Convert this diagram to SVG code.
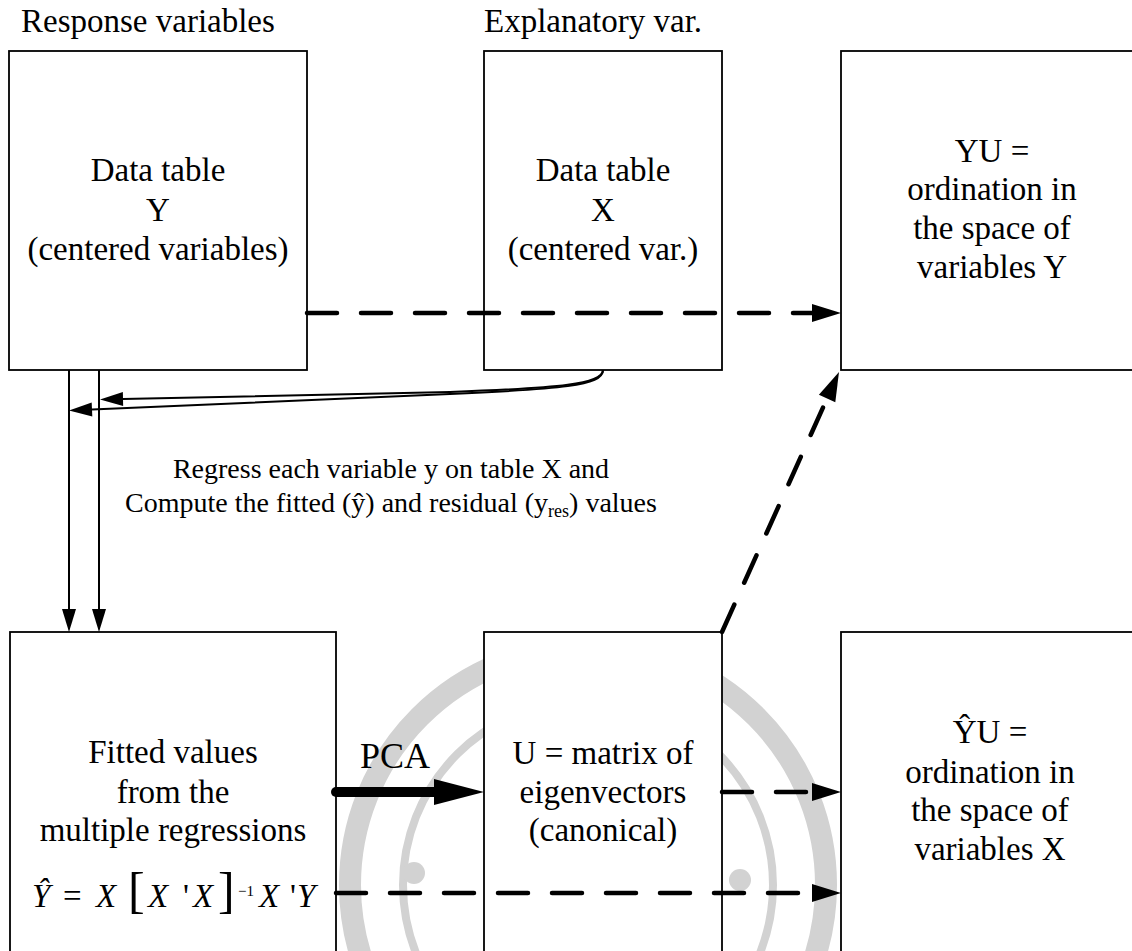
<svg xmlns="http://www.w3.org/2000/svg" width="1132" height="951" viewBox="0 0 1132 951">
<style>
.t{font-family:"Liberation Serif","Times New Roman",serif;font-size:33px;fill:#000}
.m{text-anchor:middle}
.i{font-style:italic}
.box{fill:#fff;stroke:#000;stroke-width:1.8}
.thin{fill:none;stroke:#000;stroke-width:2}
.dash{fill:none;stroke:#000;stroke-width:4.5;stroke-dasharray:30 24;stroke-linecap:round}
.wm{fill:none;stroke:#d2d2d2}
</style>
<defs>
<marker id="ah" markerUnits="userSpaceOnUse" orient="auto" overflow="visible" markerWidth="30" markerHeight="20" refX="0" refY="0"><path d="M0,-9 L29,0 L0,9 Z" fill="#000"/></marker>
<marker id="ahs" markerUnits="userSpaceOnUse" orient="auto" overflow="visible" markerWidth="24" markerHeight="16" refX="0" refY="0"><path d="M0,-7 L23,0 L0,7 Z" fill="#000"/></marker>
<marker id="ahb" markerUnits="userSpaceOnUse" orient="auto" overflow="visible" markerWidth="50" markerHeight="28" refX="0" refY="0"><path d="M0,-13 L50,0 L0,13 Z" fill="#000"/></marker>
</defs>
<rect width="1132" height="951" fill="#fff"/>
<g id="watermark">
<circle class="wm" cx="588" cy="885" r="238" stroke-width="22"/>
<circle class="wm" cx="588" cy="885" r="185" stroke-width="8"/>
<circle cx="414" cy="873" r="11" fill="#d2d2d2"/>
<circle cx="740" cy="880" r="11" fill="#d2d2d2"/>
</g>
<text class="t" x="21" y="32">Response variables</text>
<text class="t" x="484" y="32">Explanatory var.</text>
<g id="nodeY">
<rect class="box" x="9" y="51" width="298" height="319"/>
<text class="t m" x="158" y="181">Data table</text>
<text class="t m" x="158" y="221">Y</text>
<text class="t m" x="158" y="260">(centered variables)</text>
</g>
<g id="nodeX">
<rect class="box" x="484" y="51" width="238" height="319"/>
<text class="t m" x="603" y="181">Data table</text>
<text class="t m" x="603" y="221">X</text>
<text class="t m" x="603" y="260">(centered var.)</text>
</g>
<g id="nodeYU">
<rect class="box" x="841" y="51" width="310" height="319"/>
<text class="t m" x="992" y="162">YU =</text>
<text class="t m" x="992" y="200">ordination in</text>
<text class="t m" x="992" y="239">the space of</text>
<text class="t m" x="992" y="278">variables Y</text>
</g>
<g id="nodeFitted">
<rect class="box" x="10" y="632" width="326" height="340"/>
<text class="t m" x="173" y="763">Fitted values</text>
<text class="t m" x="173" y="803">from the</text>
<text class="t m" x="173" y="841">multiple regressions</text>
<text class="t i" x="32" y="907">Ŷ</text>
<text class="t" x="63" y="907">=</text>
<text class="t i" x="96" y="907">X</text>
<text class="t" x="128" y="907" style="font-size:50px">[</text>
<text class="t i" x="148" y="907">X</text>
<text class="t" x="183" y="907">'</text>
<text class="t i" x="193" y="907">X</text>
<text class="t" x="218" y="907" style="font-size:50px">]</text>
<text class="t" x="238" y="896" style="font-size:15px">−1</text>
<text class="t i" x="259" y="907">X</text>
<text class="t" x="290" y="907">'</text>
<text class="t i" x="297" y="907">Y</text>
</g>
<g id="nodeU">
<rect class="box" x="484" y="632" width="238" height="340"/>
<text class="t m" x="603" y="764">U = matrix of</text>
<text class="t m" x="603" y="803">eigenvectors</text>
<text class="t m" x="603" y="841">(canonical)</text>
</g>
<g id="nodeYhatU">
<rect class="box" x="841" y="632" width="310" height="340"/>
<text class="t m" x="990" y="743">ŶU =</text>
<text class="t m" x="990" y="783">ordination in</text>
<text class="t m" x="990" y="821">the space of</text>
<text class="t m" x="990" y="860">variables X</text>
</g>
<g id="connectors">
<path class="dash" d="M307,313 L812,313" marker-end="url(#ah)"/>
<path class="thin" d="M603,370 C603,384 560,388 450,392 L123,399" marker-end="url(#ahs)"/>
<path class="thin" d="M603,370 C603,386 560,389 450,394 L92,409.5" marker-end="url(#ahs)"/>
<path class="thin" d="M69,370 L69,609" marker-end="url(#ahs)"/>
<path class="thin" d="M99,370 L99,609" marker-end="url(#ahs)"/>
<path class="dash" d="M722,632 L827.1,398.5" marker-end="url(#ah)"/>
<path d="M336,792 L434,792" fill="none" stroke="#000" stroke-width="10" stroke-linecap="round" marker-end="url(#ahb)"/>
<path class="dash" d="M722,792 L812,792" marker-end="url(#ah)"/>
<path class="dash" d="M336,893 L812,893" marker-end="url(#ah)"/>
</g>
<text class="t" x="360" y="768" style="font-size:36px">PCA</text>
<text class="t m" x="391" y="478" style="font-size:28px">Regress each variable y on table X and</text>
<text class="t m" x="391" y="512" style="font-size:28px">Compute the fitted (ŷ) and residual (y<tspan font-size="18" dy="5">res</tspan><tspan dy="-5">) values</tspan></text>
</svg>
